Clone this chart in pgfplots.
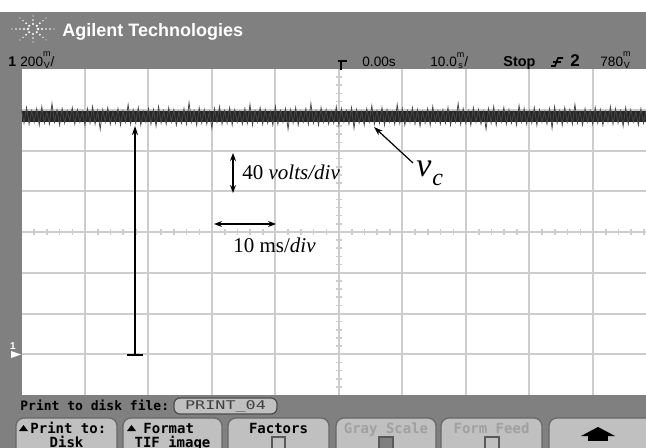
\documentclass[border=0pt]{standalone}
\usepackage{pgfplots}
\pgfplotsset{compat=1.18}
\usepackage{pgfplotstable}
\usetikzlibrary{arrows.meta}
\usepackage{fontspec}
\setmainfont{Liberation Serif}
\newfontfamily\scopefont{Liberation Sans}
\newfontfamily\btnfont{DejaVu Sans Mono}
\definecolor{scopegray}{RGB}{128,128,128}
\definecolor{gridgray}{RGB}{205,205,205}
\definecolor{btngray}{RGB}{192,192,192}
\definecolor{dimtext}{RGB}{160,160,160}
% stacked unit glyph of the scope font (m over V etc.)
\newcommand\su[2]{\raisebox{-0.6pt}{\fontsize{4.5}{4.6}\selectfont\shortstack{#1\\#2}}}

% channel 1 trace, sampled every 0.4 ms from -50 ms (volts)
\pgfplotstableread{
v
240
227
242
226
239
228
241
225
243
227
238
226
246
228
240
225
241
227
239
229
242
226
240
228
238
225
241
227
243
226
239
221
240
228
242
226
238
227
241
225
239
228
245
226
240
227
242
225
238
228
241
226
240
224
243
227
239
226
242
228
240
225
238
227
241
226
247
228
239
225
242
227
240
226
238
222
241
228
243
226
239
227
242
225
240
228
238
226
241
227
245
225
239
228
242
226
240
227
238
225
243
226
239
228
241
221
240
227
242
225
238
228
241
226
246
227
239
225
242
228
240
226
238
227
243
225
241
228
239
226
242
222
240
227
238
225
241
228
244
226
239
227
242
225
240
228
238
226
245
227
241
225
239
228
242
226
240
224
238
227
241
225
243
228
239
226
240
227
242
225
238
228
246
226
241
227
239
225
242
228
240
226
238
221
241
227
243
225
239
228
242
226
240
227
238
225
244
228
241
226
239
227
242
225
240
228
238
226
241
222
243
227
239
225
242
228
240
226
245
227
238
225
241
228
239
226
242
227
240
225
238
228
243
226
241
227
239
224
242
226
240
228
238
225
241
227
239
}\trace

\begin{document}
\begin{tikzpicture}
\clip (0,0) rectangle (323pt,-224pt);
\begin{scope}[x=0.5pt,y=-0.5pt]
  \fill[white] (0,0) rectangle (646,448);
  \fill[scopegray] (0,12) rectangle (646,448);
  \fill[white] (21.5,69) rectangle (660,395);
  % graticule ticks on the centre lines
  \foreach \k in {-24,...,24}
    \draw[gridgray, line width=0.8pt] ({339+\k*12.7},229) -- ({339+\k*12.7},235);
  \foreach \k in {-19,...,19}
    \draw[gridgray, line width=0.8pt] (336,{232+\k*8.15}) -- (342,{232+\k*8.15});
\end{scope}

\begin{axis}[
    at={(10.75pt,-197.5pt)}, anchor=south west,
    scale only axis, width=312.25pt, height=163pt,
    xmin=-50, xmax=48.4, ymin=-40, ymax=280,
    axis line style={draw=none},
    xtick={-40,-30,...,40}, ytick={0,40,...,240},
    xticklabels={}, yticklabels={},
    major tick length=0pt,
    grid=major,
    grid style={gridgray, line width=1pt},
]
  \addplot[black!85, line width=5.2pt] coordinates {(-50,233.5) (48.4,233.5)};
  \addplot[black!72, line width=0.4pt] table[x expr=\coordindex*0.4-50, y=v] {\trace};
\end{axis}

\begin{scope}[x=0.5pt,y=-0.5pt]
  % Agilent logo
  \foreach \r/\s in {5/1.3,9/1.1,13/0.9,17/0.8,21/0.6} {
    \fill[white] (33,29) ++(0:\r) circle (\s);
    \fill[white] (33,29) ++(180:\r) circle (\s);
  }
  \foreach \a in {40,140,220,320} {
    \foreach \r/\s in {5/1.2,9/1.0,13/0.8,17/0.6}
      \fill[white] (33,29) ++(\a:\r) circle (\s);
  }
  \foreach \a in {90,270} {
    \foreach \r/\s in {5/1.1,9/0.9,13/0.7}
      \fill[white] (33,29) ++(\a:\r) circle (\s);
  }
  \node[anchor=base west, inner sep=0, text=white,
        font=\scopefont\bfseries\fontsize{9}{9}\selectfont] at (62,37) {Agilent Technologies};

  % status line
  \begin{scope}[every node/.style={anchor=base west, inner sep=0,
        font=\scopefont\fontsize{6.8}{6.8}\selectfont}]
    \node[font=\scopefont\bfseries\fontsize{7}{7}\selectfont] at (8,67) {1};
    \node at (20,67) {200\su{m}{V}/};
    \node at (362,67) {0.00s};
    \node at (430,67) {10.0\su{m}{s}/};
    \node[font=\scopefont\bfseries\fontsize{7.2}{7.2}\selectfont] at (503,67) {Stop};
    \node[font=\scopefont\bfseries\fontsize{8.5}{8.5}\selectfont] at (570,67) {2};
    \node at (600,67) {780\su{m}{V}};
  \end{scope}
  \draw[line width=0.8pt] (338,61) -- (347,61) (341,61) -- (341,70);
  \draw[line width=0.8pt] (551,66) -- (555,66) -- (558,58) -- (563,58);
  \draw[line width=0.6pt] (553,62) -- (561,62);

  % channel 1 ground marker
  \node[text=white, inner sep=0, font=\scopefont\bfseries\fontsize{5}{5}\selectfont] at (13,346) {1};
  \fill[white] (11,351) -- (21,354.5) -- (11,358) -- cycle;

  % annotations
  \draw[line width=0.6pt, -{Stealth[length=4.5pt,width=3pt]}] (135,355) -- (135,126);
  \draw[line width=0.6pt] (127,355) -- (143,355);
  \draw[line width=0.6pt, {Stealth[length=4pt,width=3pt]}-{Stealth[length=4pt,width=3pt]}] (233,153) -- (233,193);
  \draw[line width=0.6pt, {Stealth[length=4pt,width=3pt]}-{Stealth[length=4pt,width=3pt]}] (214,224) -- (276,224);
  \draw[line width=0.6pt, -{Stealth[length=4.5pt,width=3pt]}] (413,163) -- (374,127);
  \node[anchor=base west, inner sep=0, font=\fontsize{10.5}{10.5}\selectfont] at (242,180) {40 \textit{volts/div}};
  \node[anchor=base west, inner sep=0, font=\fontsize{10.5}{10.5}\selectfont] at (233,252) {10 ms/\textit{div}};
  \node[anchor=base west, inner sep=0, font=\fontsize{17}{17}\selectfont] at (416,177) {\textit{v}};
  \node[anchor=base west, inner sep=0, font=\fontsize{12}{12}\selectfont] at (432,186) {\textit{c}};

  % print line
  \node[anchor=base west, inner sep=0, font=\btnfont\bfseries\fontsize{6.5}{6.5}\selectfont] at (20,410) {Print to disk file:};
  \filldraw[fill=btngray, draw=black!70, line width=0.6pt, rounded corners=3] (174,398) rectangle (277,414);
  \node[anchor=base, inner sep=0, text=black!75, font=\btnfont\fontsize{6}{6}\selectfont] at (225.5,409) {\scalebox{1.4}[1]{PRINT\_04}};

  % soft keys
  \foreach \l/\r in {16/117,123/222,228/329,336/436,441/542,549/660} {
    \filldraw[fill=btngray, draw=black!60, line width=0.6pt, rounded corners=4]
      (\l,455) -- (\l,418) -- (\r,418) -- (\r,455);
  }
  \begin{scope}[every node/.style={anchor=base, inner sep=0,
        font=\btnfont\bfseries\fontsize{7}{7}\selectfont}]
    \fill (19,431) -- (23.5,425) -- (28,431) -- cycle;
    \node[anchor=base west] at (30,433) {Print to:};
    \node at (66.5,447) {Disk};
    \fill (127,431) -- (131.5,425) -- (136,431) -- cycle;
    \node[anchor=base west] at (143,433) {Format};
    \node at (172.5,447) {TIF image};
    \node at (278.5,433) {Factors};
    \node[text=dimtext] at (386,433) {Gray Scale};
    \node[text=dimtext] at (491.5,433) {Form Feed};
  \end{scope}
  \filldraw[fill=btngray, draw=black!65, line width=0.6pt] (272,437) rectangle (285,452);
  \filldraw[fill=scopegray, draw=black!65, line width=0.6pt] (379,437) rectangle (393,452);
  \filldraw[fill=btngray, draw=black!65, line width=0.6pt] (485,437) rectangle (499,452);
  \fill (581,436) -- (598,427) -- (615,436) -- cycle;
  \fill (588,436) rectangle (608,441);
\end{scope}
\end{tikzpicture}
\end{document}
